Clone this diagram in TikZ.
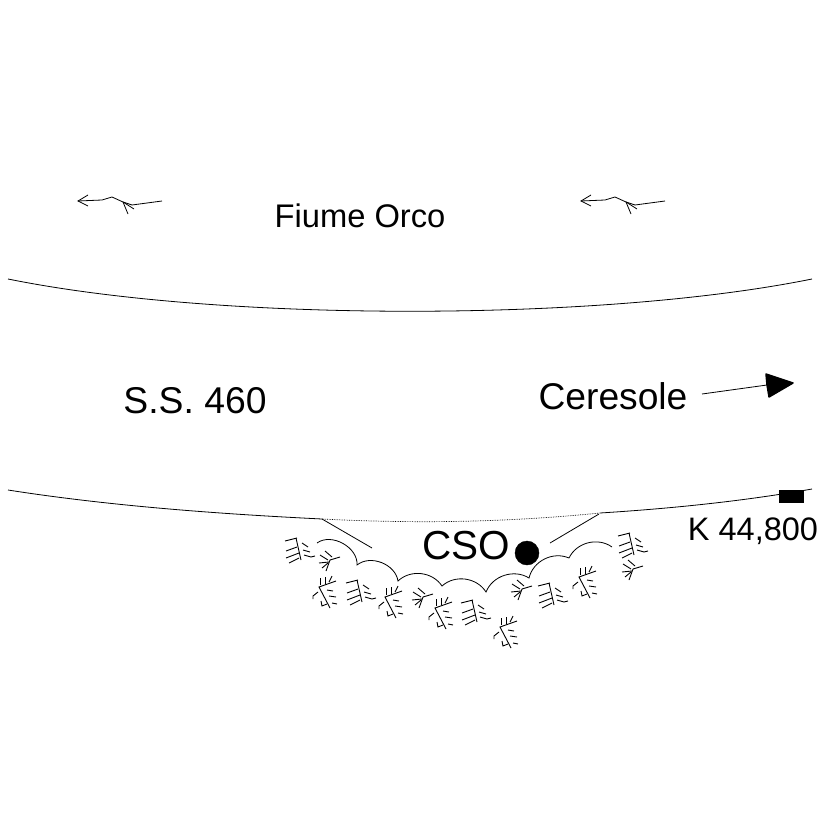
\documentclass[tikz,border=0pt]{standalone}
\usepackage{fontspec}
\setmainfont{Liberation Sans}
\tikzset{
  road/.style={draw,line width=0.8pt},
  leaf/.style={draw,line width=0.9pt},
  label/.style={inner sep=0pt,anchor=center},
  plantA/.pic={
    \path[leaf] (-3,-12) -- (2,10);
    \path[leaf] (-14,-9) -- (-2,-12);
    \path[leaf] (-13,1) -- (-2,-3);
    \path[leaf] (-13,8) -- (0,3);
    \path[leaf] (-10,13) -- (0,8);
    \path[leaf] (3,-7) -- (9,-3);
    \path[leaf] (4,0) -- (11,2);
    \path[leaf] (5,5) -- (12,7) -- (16,6);
  },
  plantB/.pic={
    \path[leaf] (10,-3) -- (0,0) -- (-4,11);
    \path[leaf] (-10,-5) -- (-2,0);
    \path[leaf] (-5,-9) -- (2,-3);
    \path[leaf] (-11,3) -- (-1,2);
    \path[leaf] (-8,8) -- (-2,3);
  },
  plantC/.pic={
    \path[leaf] (17,-6) -- (0,0) -- (11,21);
    \path[leaf] (1,-9) -- (1,-2);
    \path[leaf] (6,-10) -- (6,-3);
    \path[leaf] (13,-11) -- (10,-5);
    \path[leaf] (8,3) -- (14,4);
    \path[leaf] (10,9) -- (17,10);
    \path[leaf] (13,16) -- (18,17);
    \path[leaf] (-1,5) -- (-6,9) -- (-6,12);
    \path[leaf] (2,14) -- (3,19) -- (8,17);
  },
  riverflow/.pic={
    \path[draw,line width=0.8pt] (0,0) -- (24,-1) -- (34,-4) -- (45,1) -- (54,4) -- (84,0);
    \path[draw,line width=0.8pt] (10,-6) -- (0,0) -- (10,5);
    \path[draw,line width=0.8pt] (45,1) -- (50,13);
    \path[draw,line width=0.8pt] (45,1) -- (56,8);
  },
}
\begin{document}
\begin{tikzpicture}[x=1pt,y=-1pt]
\useasboundingbox (0,0) rectangle (826,826);

\pic at (78,201) {riverflow};
\pic at (581,201) {riverflow};
\node[label,font=\fontsize{32.7}{33}\selectfont] (fiume) at (360,216) {Fiume Orco};

% road edges
\path[road] (8,279) .. controls (220,322) and (600,322) .. (812,279);
\path[road] (8,490) .. controls (110,506) and (220,514) .. (322,519);
\path[road] (600,513) .. controls (680,508) and (750,500) .. (812,489);
\path[draw,line width=0.7pt,densely dotted] (322,519) .. controls (420,524) and (510,522) .. (600,513);
\path[road] (322,519) -- (372,548);
\path[road] (599,514) -- (550,543);

\node[label,font=\fontsize{37.3}{37}\selectfont] (statale) at (195,401) {S.S. 460};
\node[label,font=\fontsize{37.2}{37}\selectfont] (ceresole) at (613,396) {Ceresole};

\coordinate (tail) at (702,394);
\coordinate (tip) at (767,385);
\path[road] (tail) -- (tip);
\path[draw,fill=black,line width=1.5pt,line join=round] (766,374) -- (793,383) -- (769,397) -- (767,385) -- cycle;

\node[draw,fill=black,minimum width=24pt,minimum height=12pt,inner sep=0pt] (km) at (791,496) {};
\node[label,font=\fontsize{32.5}{33}\selectfont] (kmlabel) at (753,531) {K 44,800};

\node[label,font=\fontsize{40.5}{41}\selectfont] (cso) at (466,546) {CSO};
\node[draw,fill=black,circle,minimum size=24pt,inner sep=0pt] (dot) at (527,553) {};

% scallops
\path[road] (317,543) to[bend left=65] (357,565)
  to[bend left=60] (398,581)
  to[bend left=50] (442,586)
  to[bend left=50] (486,592)
  to[bend left=50] (529,578)
  to[bend left=50] (569,558)
  to[bend left=50] (612,547);

% plants
\foreach \px/\py in {299/550,360/592,475/612,552/595,632/545}
  \pic at (\px,\py) {plantA};
\foreach \px/\py in {330/560,423/597,522/589,633/569}
  \pic at (\px,\py) {plantB};
\foreach \px/\py in {319/587,385/597,435/608,500/627,579/577}
  \pic at (\px,\py) {plantC};
\end{tikzpicture}
\end{document}
